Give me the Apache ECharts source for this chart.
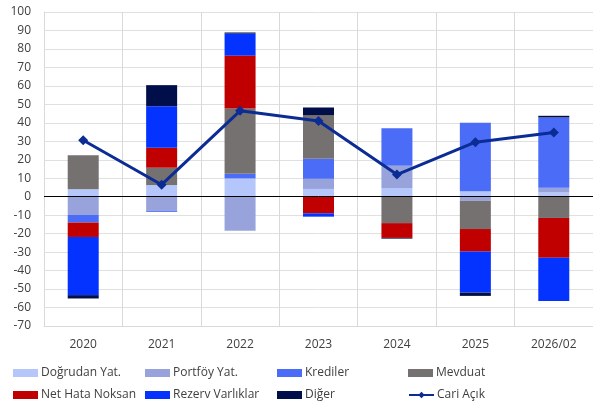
<!DOCTYPE html>
<html>
<head>
<meta charset="utf-8">
<script src="https://cdn.jsdelivr.net/npm/echarts@6/dist/echarts.min.js"></script>
<style>
  html, body { margin: 0; padding: 0; background: #fff; }
  #chart { width: 593px; height: 405px; }
</style>
</head>
<body>
<div id="chart"></div>
<script>
// yıllar
var years = ['2020', '2021', '2022', '2023', '2024', '2025', '2026/02'];

// finans hesabı kalemleri (stacked bars)
var dogrudan = [4, 6.3, 9.9, 4.2, 4.7, 3, 2.3];
var portfoy = [-9.9, -7.7, -18.4, 5.5, 12, -2.2, 2.6];
var krediler = [-4.1, -0.5, 2.5, 10.8, 20.3, 37.1, 38];
var mevduat = [18.5, 9.4, 35.4, 23.7, -14.3, -15.3, -11.5];
var netHata = [-7.8, 10.8, 28.6, -9, -8, -12.2, -21.5];
var rezerv = [-31.5, 22.5, 11.9, -1.8, 0, -22.2, -23.4];
var diger = [-1.8, 11.4, 0.6, 4.1, -0.4, -1.8, 0.9];

// cari açık (line)
var cariAcik = [30.6, 6.5, 46.5, 41, 12, 29.5, 34.8];

var yTicks = { min: -70, max: 100, step: 10 };

var font = 'Open Sans';
var txt = '#404040';

function barSeries(name, data, color) {
    return {
        name: name,
        type: 'bar',
        stack: 'fin',
        barWidth: 31,
        data: data,
        itemStyle: { color: color },
        emphasis: { disabled: true }
    };
}

// one legend per item, placed like the excel legend grid
function legendItem(name, left, top, isLine) {
    var item = isLine ? { name: name } : { name: name, icon: 'rect' };
    return {
        left: left,
        top: top,
        itemWidth: 25,
        itemHeight: 8,
        itemGap: 0,
        padding: 0,
        data: [item],
        textStyle: { fontFamily: font, fontSize: 12, color: txt, padding: [0, 0, 0, -2] }
    };
}

var myChart = echarts.init(document.getElementById('chart'));

var row1 = 367, row2 = 389;

var option = {
    animation: false,
    grid: { left: 44, top: 12, width: 552, height: 314 },
    legend: [
        legendItem('Doğrudan Yat.', 13, row1),
        legendItem('Portföy Yat.', 145, row1),
        legendItem('Krediler', 277, row1),
        legendItem('Mevduat', 408, row1),
        legendItem('Net Hata Noksan', 13, row2),
        legendItem('Rezerv Varlıklar', 145, row2),
        legendItem('Diğer', 277, row2),
        legendItem('Cari Açık', 408, row2, true)
    ],
    xAxis: {
        type: 'category',
        data: years,
        axisLine: { onZero: false, lineStyle: { color: '#d9d9d9' } },
        axisTick: { show: false },
        axisLabel: { margin: 13, fontFamily: font, fontSize: 12, color: txt },
        splitLine: { show: true, lineStyle: { color: '#d9d9d9' } }
    },
    yAxis: {
        type: 'value',
        min: yTicks.min,
        max: yTicks.max,
        interval: yTicks.step,
        axisLine: { show: true, lineStyle: { color: '#d9d9d9' } },
        axisTick: { show: false },
        axisLabel: { margin: 13, fontFamily: font, fontSize: 12, color: txt },
        splitLine: { lineStyle: { color: '#e0e0e0' } }
    },
    series: [
        barSeries('Doğrudan Yat.', dogrudan, '#b4c6fa'),
        barSeries('Portföy Yat.', portfoy, '#98a3dc'),
        barSeries('Krediler', krediler, '#4a6cf7'),
        barSeries('Mevduat', mevduat, '#767171'),
        barSeries('Net Hata Noksan', netHata, '#c00000'),
        barSeries('Rezerv Varlıklar', rezerv, '#0432ff'),
        barSeries('Diğer', diger, '#000f4a'),
        {
            name: 'Cari Açık',
            type: 'line',
            data: cariAcik,
            symbol: 'diamond',
            symbolSize: 10,
            lineStyle: { color: '#0c2c95', width: 3 },
            itemStyle: { color: '#0c2c95' },
            z: 5,
            markLine: {
                silent: true,
                symbol: 'none',
                label: { show: false },
                lineStyle: { color: '#000', width: 1, type: 'solid' },
                data: [{ yAxis: 0 }]
            }
        }
    ]
};

myChart.setOption(option);
</script>
</body>
</html>
